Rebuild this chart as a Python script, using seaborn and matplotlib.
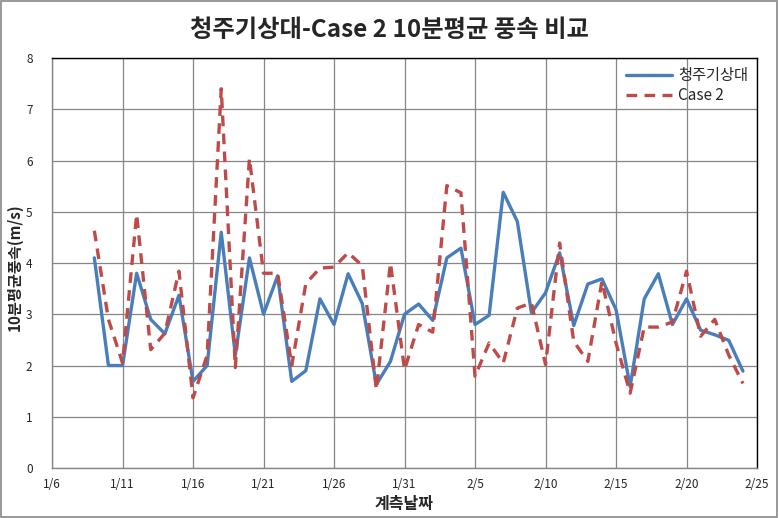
import matplotlib
matplotlib.use("Agg")
import matplotlib.pyplot as plt
import pandas as pd
import seaborn as sns
from matplotlib.patches import Rectangle

# daily 10-min mean wind speed, 1/9 .. 2/24
dates = pd.date_range("2013-01-09", "2013-02-24", freq="D")
station = [4.1, 2.0, 2.0, 3.8, 2.9, 2.62, 3.37, 1.69, 2.0, 4.6,
           2.2, 4.1, 3.0, 3.75, 1.69, 1.9, 3.3, 2.8, 3.79, 3.21,
           1.63, 2.08, 3.0, 3.2, 2.88, 4.1, 4.29, 2.8, 2.98, 5.38,
           4.81, 3.03, 3.42, 4.2, 2.78, 3.59, 3.69, 3.09, 1.59, 3.3,
           3.79, 2.8, 3.3, 2.69, 2.6, 2.49, 1.89]
case2 = [4.63, 2.9, 2.05, 4.95, 2.31, 2.63, 3.84, 1.37, 2.2, 7.4,
         1.96, 6.04, 3.8, 3.8, 2.0, 3.6, 3.9, 3.92, 4.2, 3.95,
         1.53, 4.0, 1.92, 2.8, 2.65, 5.51, 5.37, 1.79, 2.44, 2.05,
         3.12, 3.22, 2.02, 4.39, 2.47, 2.08, 3.64, 2.44, 1.46, 2.75,
         2.75, 2.85, 3.84, 2.57, 2.9, 2.2, 1.65]

tick_dates = pd.date_range("2013-01-06", "2013-02-25", freq="5D")
tick_labels = ["1/6", "1/11", "1/16", "1/21", "1/26", "1/31",
               "2/5", "2/10", "2/15", "2/20", "2/25"]

df = pd.DataFrame({"date": dates, "청주기상대": station, "Case 2": case2})

sns.set_style("white")
plt.rcParams["font.family"] = ["Noto Sans CJK KR", "DejaVu Sans"]

fig = plt.figure(figsize=(7.79, 5.18), dpi=100)
ax = fig.add_axes([0.0668, 0.0965, 0.905, 0.7915])

sns.lineplot(data=df, x="date", y="청주기상대", ax=ax, color="#4A7EBB",
             linewidth=2.4, label="청주기상대")
sns.lineplot(data=df, x="date", y="Case 2", ax=ax, color="#BE4B48",
             linewidth=2.4, label="Case 2")
ax.lines[-1].set_linestyle((0, (3.2, 2.2)))

ax.set_xlim(tick_dates[0], tick_dates[-1])
ax.set_ylim(0, 8)
ax.set_xticks(tick_dates)
ax.set_xticklabels(tick_labels, fontsize=8.5)
ax.set_yticks(range(0, 9))
ax.tick_params(axis="y", labelsize=8.5, length=5, color="#868686", direction="out", pad=9)
ax.tick_params(axis="x", length=0, pad=7)
ax.grid(True, color="#868686", linewidth=0.9)
for side in ["top", "right"]:
    ax.spines[side].set_color("black")
    ax.spines[side].set_linewidth(1.0)
for side in ["left", "bottom"]:
    ax.spines[side].set_color("#868686")
    ax.spines[side].set_linewidth(1.0)

ax.set_xlabel("계측날짜", fontsize=11.5, fontweight="bold")
ax.xaxis.set_label_coords(0.5, -0.068)
ax.set_ylabel("10분평균풍속(m/s)", fontsize=11, fontweight="bold")
ax.yaxis.set_label_coords(-0.042, 0.49)
fig.suptitle("청주기상대-Case 2 10분평균 풍속 비교", fontsize=17.5,
             fontweight="bold", x=0.5, y=0.965)

ax.legend(loc="upper right", frameon=False, fontsize=11,
          handlelength=3.0, borderaxespad=0.2, labelspacing=0.2,
          handletextpad=0.4)

fig.patches.append(Rectangle((0.001, 0.001), 0.997, 0.997, transform=fig.transFigure,
                             fill=False, edgecolor="#888888", linewidth=1.2))

fig.savefig("out.png", dpi=100)
